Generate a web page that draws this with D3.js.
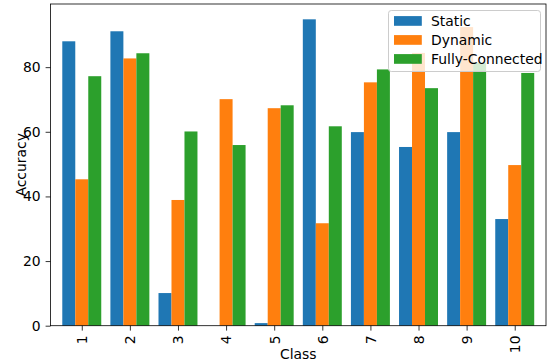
<!DOCTYPE html>
<html>
<head>
<meta charset="utf-8">
<script src="https://cdn.jsdelivr.net/npm/d3@7"></script>
<style>
  html, body { margin: 0; padding: 0; background: #fff; }
  svg { display: block; font-family: "DejaVu Sans", sans-serif; }
</style>
</head>
<body>
<svg id="chart" width="552" height="364"></svg>
<script>
// Per-class accuracy for three connectivity schemes
const classes = ["1", "2", "3", "4", "5", "6", "7", "8", "9", "10"];
const staticAcc = [88.0, 91.1, 10.1, 0.0, 0.8, 94.8, 59.9, 55.3, 59.9, 33.0];
const dynamicAcc = [45.3, 82.7, 38.9, 70.1, 67.3, 31.7, 75.3, 84.4, 92.4, 49.7];
const fullyAcc = [77.2, 84.3, 60.1, 55.9, 68.2, 61.7, 79.3, 73.5, 81.4, 78.2];
const seriesNames = ["Static", "Dynamic", "Fully-Connected"];
const yTicks = [0, 20, 40, 60, 80];

const colors = ["#1f77b4", "#ff7f0e", "#2ca02c"];
const seriesValues = [staticAcc, dynamicAcc, fullyAcc];
const barW = 0.27;

const svg = d3.select("#chart");
const plot = { left: 50.5, right: 546, top: 4, bottom: 325.7 };
const fs = 13.9;

const x = d3.scaleLinear().domain([-0.65, classes.length - 1 + 0.65]).range([plot.left, plot.right]);
const yMax = d3.max(seriesValues.flat()) * 1.05;
const y = d3.scaleLinear().domain([0, yMax]).range([plot.bottom, plot.top]);

// Bars
seriesValues.forEach((vals, j) => {
  svg.append("g")
    .selectAll("rect")
    .data(vals)
    .join("rect")
    .attr("x", (d, i) => x(i + (j - 1) * barW - barW / 2))
    .attr("width", x(barW) - x(0))
    .attr("y", d => y(d))
    .attr("height", d => y(0) - y(d))
    .attr("fill", colors[j]);
});

// Y axis
const yAxis = svg.append("g")
  .attr("transform", `translate(${plot.left},0)`)
  .call(d3.axisLeft(y).tickValues(yTicks).tickSize(4.9).tickPadding(4.9).tickFormat(d3.format("d")));
yAxis.select(".domain").remove();
yAxis.selectAll("line").attr("stroke", "#000").attr("stroke-width", 0.8);
yAxis.selectAll("text").attr("font-size", fs).attr("fill", "#000").attr("font-family", "DejaVu Sans");

// X axis with rotated class labels
const xAxis = svg.append("g")
  .attr("transform", `translate(0,${plot.bottom})`)
  .call(d3.axisBottom(x).tickValues(d3.range(classes.length)).tickSize(4.9).tickPadding(0).tickFormat(i => classes[i]));
xAxis.select(".domain").remove();
xAxis.selectAll("line").attr("stroke", "#000").attr("stroke-width", 0.8);
xAxis.selectAll("text")
  .attr("font-size", fs).attr("fill", "#000").attr("font-family", "DejaVu Sans")
  .attr("text-anchor", "end")
  .attr("transform", "translate(0,9.8) rotate(-90)")
  .attr("x", 0).attr("y", 0).attr("dy", "0.35em");

// Spines
svg.append("rect")
  .attr("x", plot.left).attr("y", plot.top)
  .attr("width", plot.right - plot.left).attr("height", plot.bottom - plot.top)
  .attr("fill", "none").attr("stroke", "#000").attr("stroke-width", 0.8);

// Axis titles
svg.append("text")
  .attr("x", (plot.left + plot.right) / 2).attr("y", 359)
  .attr("text-anchor", "middle").attr("font-size", fs).text("Class");
svg.append("text")
  .attr("transform", `translate(26,${(plot.top + plot.bottom) / 2}) rotate(-90)`)
  .attr("text-anchor", "middle").attr("font-size", fs).text("Accuracy");

// Legend
const lg = svg.append("g").attr("transform", "translate(388.5,10.5)");
lg.append("rect")
  .attr("width", 152).attr("height", 61).attr("rx", 2.8)
  .attr("fill", "#fff").attr("fill-opacity", 0.8)
  .attr("stroke", "#ccc").attr("stroke-width", 1);
seriesNames.forEach((name, j) => {
  const cy = 10.5 + j * 19;
  lg.append("rect").attr("x", 5.5).attr("y", cy - 4.9).attr("width", 27.8).attr("height", 9.7).attr("fill", colors[j]);
  lg.append("text").attr("x", 42.5).attr("y", cy).attr("dy", "0.36em").attr("font-size", fs).text(name);
});
</script>
</body>
</html>
